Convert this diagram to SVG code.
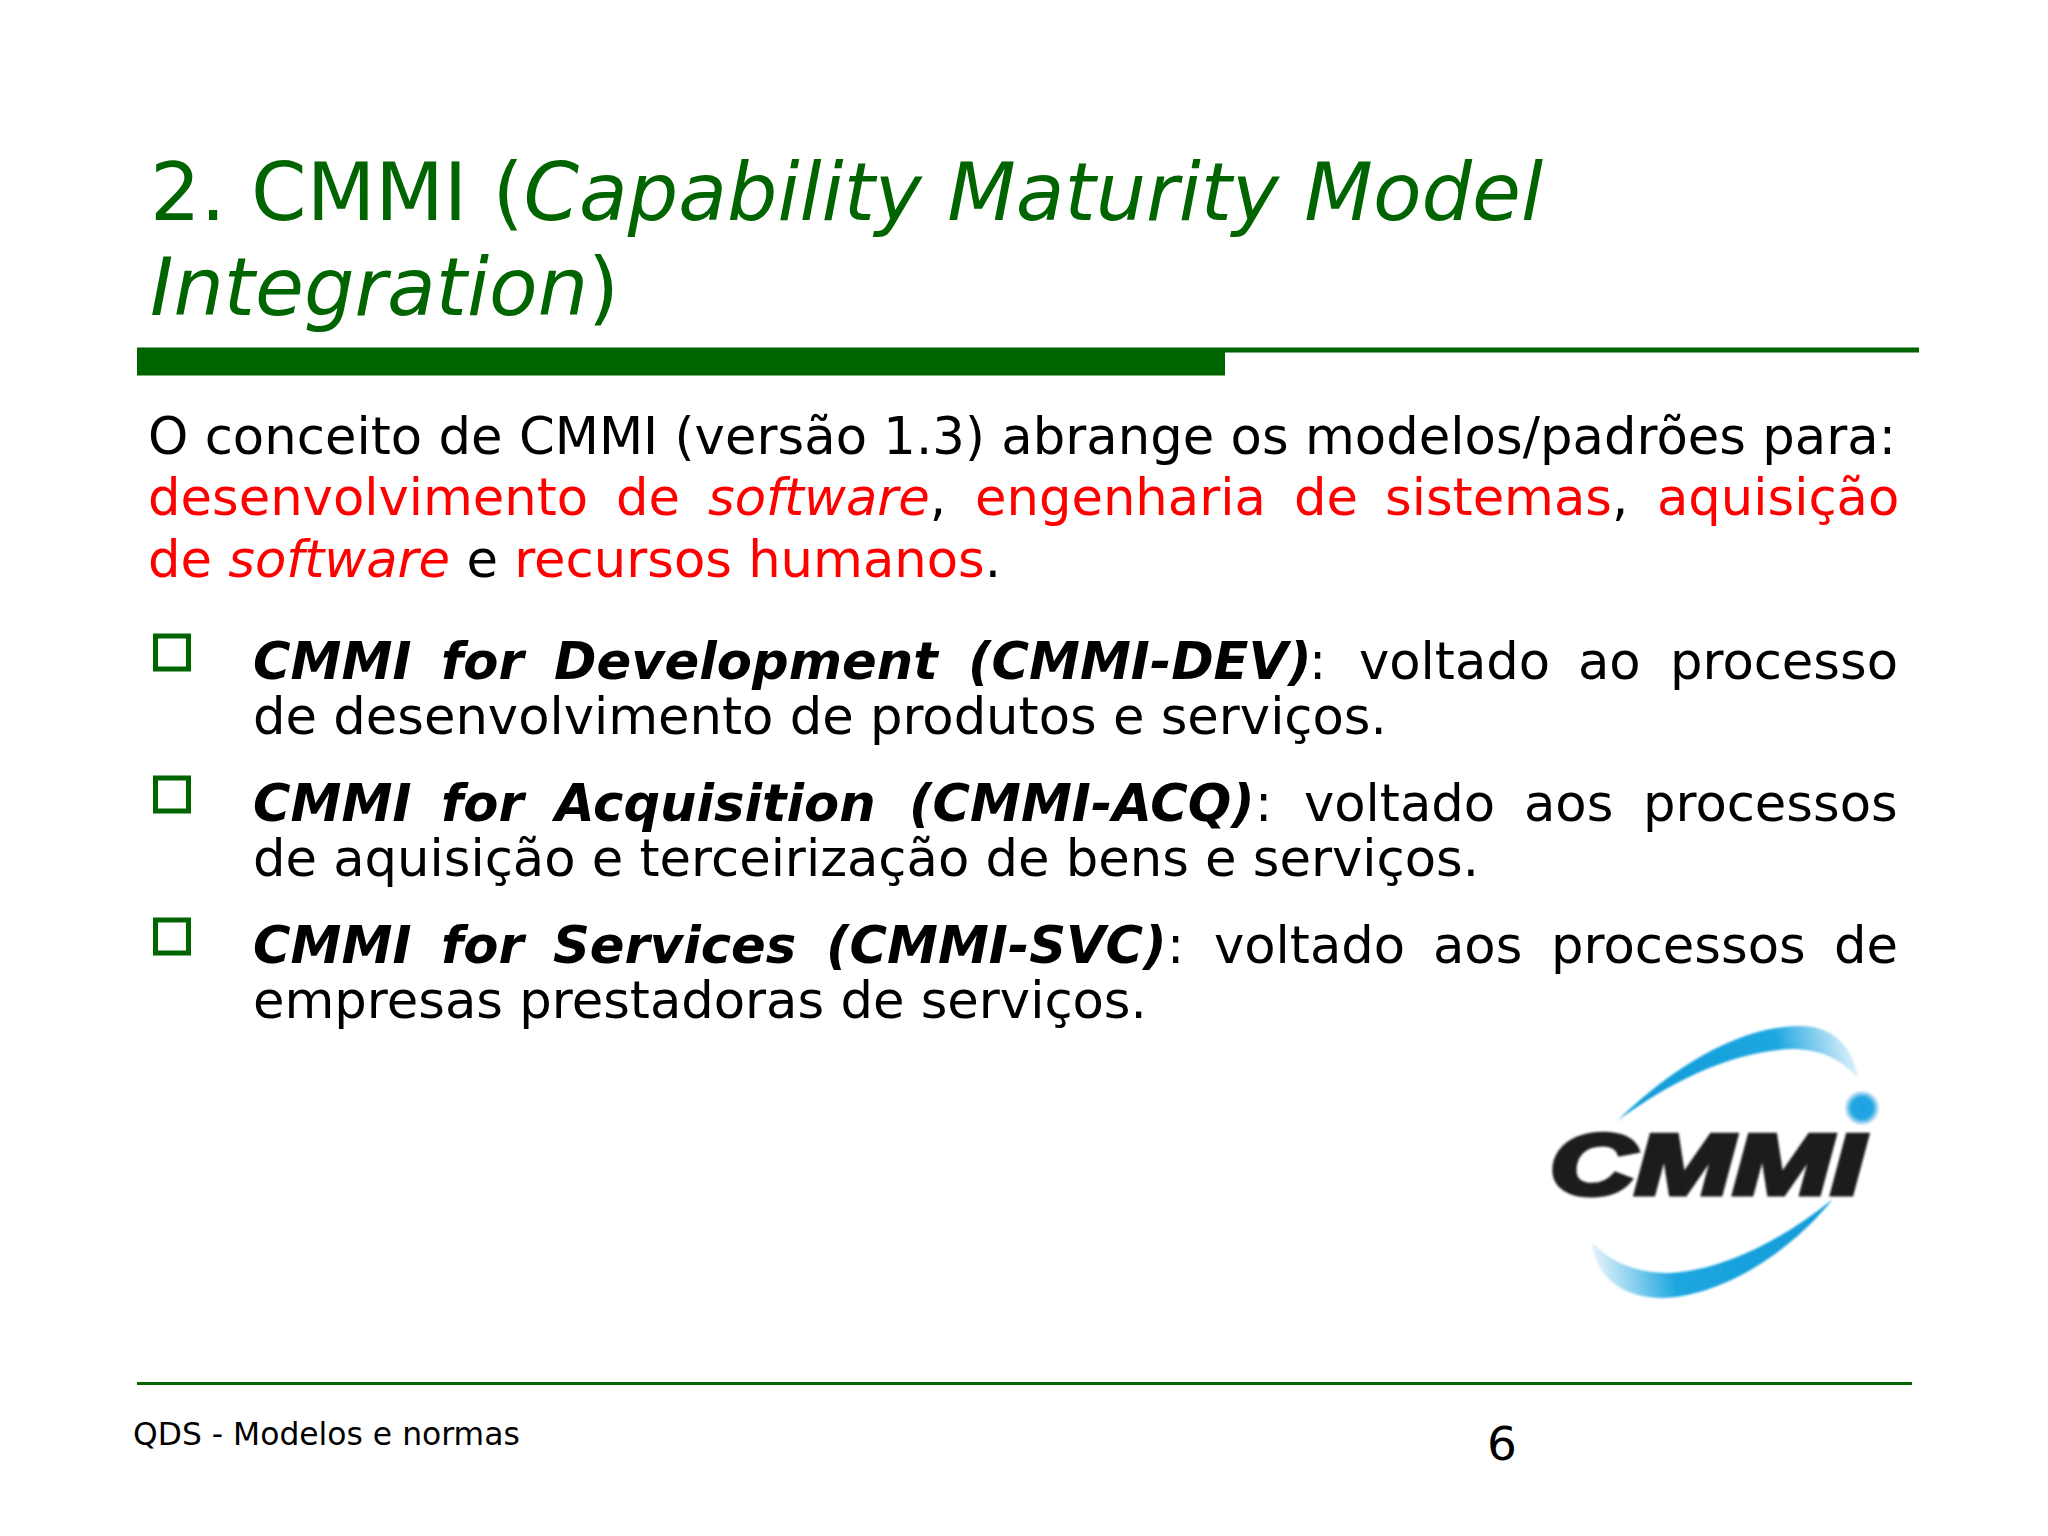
<svg xmlns="http://www.w3.org/2000/svg" width="2048" height="1536" viewBox="0 0 2048 1536">
<style>
text{font-family:"DejaVu Sans",sans-serif;white-space:pre}
.t{font-size:79.5px;fill:#006400}
.b{font-size:51.2px;fill:#000}
.r{fill:#f00}
.h{font-weight:bold;font-style:italic}
.i{font-style:italic}
.box{fill:none;stroke:#006400;stroke-width:5}
</style>
<defs>
<linearGradient id="g1" gradientUnits="userSpaceOnUse" x1="1617" y1="1121" x2="1858" y2="1060"><stop offset="0" stop-color="#0f9ad8"/><stop offset=".7" stop-color="#1ea7e0"/><stop offset="1" stop-color="#e2f2fa"/></linearGradient>
<linearGradient id="g2" gradientUnits="userSpaceOnUse" x1="1592" y1="1250" x2="1833" y2="1199"><stop offset="0" stop-color="#e2f2fa"/><stop offset=".3" stop-color="#1ea7e0"/><stop offset="1" stop-color="#0f9ad8"/></linearGradient>
<radialGradient id="g3"><stop offset="0" stop-color="#1ea4e2"/><stop offset=".65" stop-color="#22a5e2"/><stop offset="1" stop-color="#d8eef9"/></radialGradient>
<filter id="soft" x="-5%" y="-5%" width="110%" height="110%"><feGaussianBlur stdDeviation="0.9"/></filter>
</defs>
<rect width="2048" height="1536" fill="#fff"/>
<g id="title">
<text class="t" x="150" y="220">2. CMMI (<tspan class="i">Capability Maturity Model</tspan></text>
<text class="t" x="150" y="315"><tspan class="i">Integration</tspan>)</text>
<rect x="137" y="347.5" width="1088" height="28" fill="#006400"/>
<rect x="1225" y="347.5" width="694" height="5" fill="#006400"/>
</g>
<g id="intro">
<text class="b" x="148" y="454" textLength="1748">O conceito de CMMI (versão 1.3) abrange os modelos/padrões para:</text>
<text class="b r" x="148" y="515">desenvolvimento</text>
<text class="b r" x="616" y="515">de</text>
<text class="b" x="708" y="515"><tspan class="r i">software</tspan>,</text>
<text class="b r" x="975" y="515">engenharia</text>
<text class="b r" x="1294" y="515">de</text>
<text class="b" x="1385" y="515"><tspan class="r">sistemas</tspan>,</text>
<text class="b r" x="1657" y="515">aquisição</text>
<text class="b" x="148" y="577"><tspan class="r">de </tspan><tspan class="r i">software</tspan> e <tspan class="r">recursos humanos</tspan>.</text>
</g>
<g id="bullets">
<rect class="box" x="155.5" y="636" width="33" height="33"/>
<rect class="box" x="155.5" y="778" width="33" height="33"/>
<rect class="box" x="155.5" y="920" width="33" height="33"/>
</g>
<g id="items">
<text class="b h" x="253" y="679">CMMI</text><text class="b h" x="441" y="679">for</text><text class="b h" x="554" y="679">Development</text><text class="b h" x="968" y="679">(CMMI-DEV)</text><text class="b" x="1309" y="679">:</text><text class="b" x="1359" y="679">voltado</text><text class="b" x="1578" y="679">ao</text><text class="b" x="1670" y="679">processo</text>
<text class="b" x="253" y="734">de desenvolvimento de produtos e serviços.</text>
<text class="b h" x="253" y="821">CMMI</text><text class="b h" x="441" y="821">for</text><text class="b h" x="555" y="821">Acquisition</text><text class="b h" x="909" y="821">(CMMI-ACQ)</text><text class="b" x="1255" y="821">:</text><text class="b" x="1304" y="821">voltado</text><text class="b" x="1524" y="821">aos</text><text class="b" x="1643" y="821">processos</text>
<text class="b" x="253" y="876">de aquisição e terceirização de bens e serviços.</text>
<text class="b h" x="253" y="963">CMMI</text><text class="b h" x="441" y="963">for</text><text class="b h" x="553" y="963">Services</text><text class="b h" x="826" y="963">(CMMI-SVC)</text><text class="b" x="1167" y="963">:</text><text class="b" x="1214" y="963">voltado</text><text class="b" x="1433" y="963">aos</text><text class="b" x="1551" y="963">processos</text><text class="b" x="1834" y="963">de</text>
<text class="b" x="253" y="1018">empresas prestadoras de serviços.</text>
</g>
<g id="logo" filter="url(#soft)">
<path d="M1617 1121C1680 1060 1745 1026 1800 1026C1835 1026 1853 1048 1858 1078C1840 1058 1820 1049 1790 1049C1730 1052 1670 1082 1617 1121Z" fill="url(#g1)"/>
<path d="M1833 1199C1780 1264 1710 1298 1660 1298C1620 1297 1595 1275 1592 1242C1610 1262 1635 1273 1670 1273C1725 1270 1785 1238 1833 1199Z" fill="url(#g2)"/>
<circle cx="1862" cy="1108" r="17" fill="url(#g3)"/>
<text x="1550" y="1194" font-size="86" font-weight="bold" font-style="italic" fill="#1f1a1c" stroke="#1f1a1c" stroke-width="5" textLength="314" lengthAdjust="spacingAndGlyphs" style="font-family:'Liberation Sans',sans-serif">CMMI</text>
</g>
<g id="footer">
<rect x="137" y="1382" width="1775" height="3" fill="#006400"/>
<text x="133" y="1445" font-size="31.4" fill="#000">QDS - Modelos e normas</text>
<text x="1487" y="1460" font-size="47" fill="#000">6</text>
</g>
</svg>
